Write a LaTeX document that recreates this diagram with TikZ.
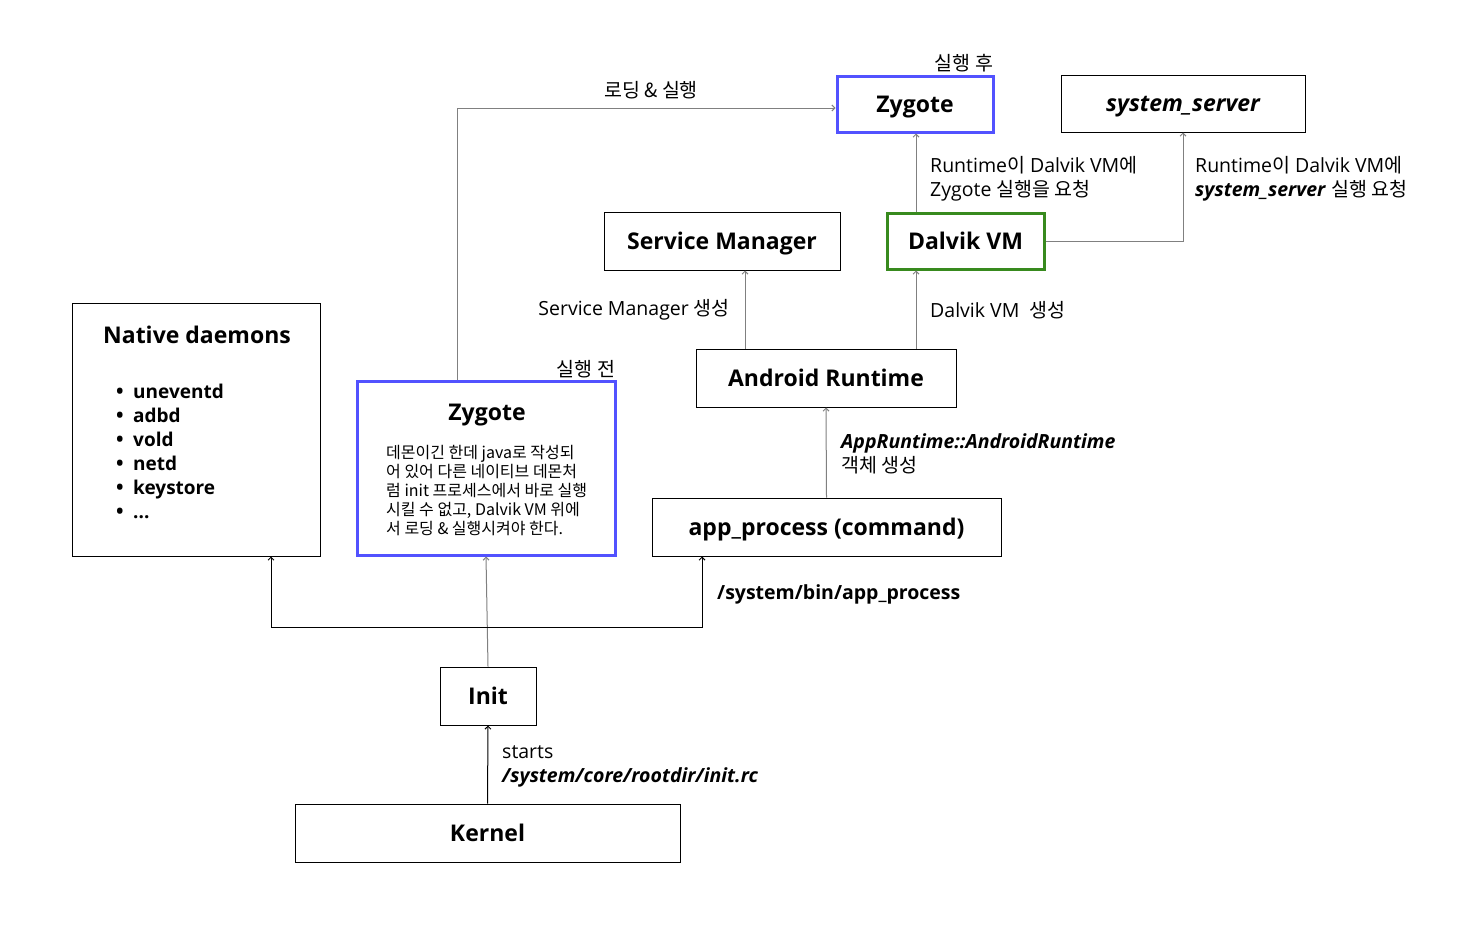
\documentclass[tikz,border=0pt]{standalone}
\usepackage{fontspec}
\setmainfont{Open Sans}
\newfontfamily\kofont{Noto Sans CJK KR}
\newcommand\ko[1]{{\kofont #1}}
\usetikzlibrary{arrows.meta}
\definecolor{zblue}{RGB}{82,82,255}
\definecolor{vgreen}{RGB}{56,138,30}
\definecolor{lgray}{RGB}{128,128,128}
\newcommand\bl{\makebox[17pt][l]{\fontsize{20}{24}\selectfont •}}
\begin{document}
\begin{tikzpicture}[x=1pt,y=-1pt,
  box/.style={draw, line width=1pt, inner sep=0pt, text height=16pt, text depth=0pt, font=\fontsize{23}{27}\selectfont\bfseries},
  bluebox/.style={box, draw=zblue, line width=3pt},
  greenbox/.style={box, draw=vgreen, line width=3pt},
  lbl/.style={inner sep=0pt, font=\fontsize{19.5}{24}\selectfont, align=left},
  conn/.style={line width=1pt, -{Straight Barb[length=3pt,width=6pt]}},
  gconn/.style={conn, draw=lgray}]
\useasboundingbox (0,0) rectangle (1479,937);
% boxes
\node[box, minimum width=385, minimum height=58] (kr) at (487.5,833) {Kernel};
\node[box, minimum width=96, minimum height=58] (in) at (488,696) {Init};
\node[box, minimum width=248, minimum height=253] (nd) at (196,429.5) {};
\node[inner sep=0pt, text height=16pt, text depth=0pt, font=\fontsize{23}{27}\selectfont\bfseries] (ndt) at (197,335) {Native daemons};
\node[inner sep=0pt, anchor=west, align=left, font=\fontsize{19}{24}\selectfont\bfseries] (ndl) at (116,451.5)
  {\bl uneventd\\ \bl adbd\\ \bl vold\\ \bl netd\\ \bl keystore\\ \bl ...};
\node[bluebox, minimum width=258, minimum height=174] (zb) at (486,468) {};
\node[inner sep=0pt, text height=16pt, text depth=0pt, font=\fontsize{23}{27}\selectfont\bfseries] (zbt) at (487,412) {Zygote};
\node[inner sep=0pt, anchor=west, align=left, font=\kofont\fontsize{16}{19}\selectfont] (zbx) at (386,491)
  {데몬이긴 한데 java로 작성되\\어 있어 다른 네이티브 데몬처\\럼 init 프로세스에서 바로 실행\\시킬 수 없고, Dalvik VM 위에\\서 로딩 \& 실행시켜야 한다.};
\node[box, minimum width=349, minimum height=58] (ap) at (826.5,527) {app\_process (command)};
\node[box, minimum width=260, minimum height=58] (ar) at (826,378) {Android Runtime};
\node[box, minimum width=236, minimum height=58] (sm) at (722,241) {Service Manager};
\node[greenbox, minimum width=157, minimum height=56] (dv) at (965.5,241) {Dalvik VM};
\node[bluebox, minimum width=156, minimum height=56] (za) at (915,104) {Zygote};
\node[box, minimum width=244, minimum height=57] (ss) at (1183,103.5) {\itshape system\_server};
% labels
\node[lbl] (l1) at (651,90) {\ko{로딩 \& 실행}};
\node[lbl] (l2) at (964,63) {\ko{실행 후}};
\node[lbl] (l3) at (586,369) {\ko{실행 전}};
\node[lbl, anchor=west] (l4) at (930,179) {Runtime\ko{이} Dalvik VM\ko{에}\\Zygote \ko{실행을 요청}};
\node[lbl, anchor=west] (l5) at (1195,179) {Runtime\ko{이} Dalvik VM\ko{에}\\\textbf{\itshape system\_server} \ko{실행 요청}};
\node[lbl, anchor=east] (l6) at (730,310) {Service Manager \ko{생성}};
\node[lbl, anchor=west] (l7) at (930,310) {Dalvik VM\ \ \ko{생성}};
\node[lbl, anchor=west] (l8) at (841,454) {\textbf{\itshape AppRuntime::AndroidRuntime}\\\ko{객체 생성}};
\node[lbl, anchor=west] (l9) at (717,594) {\textbf{/system/bin/app\_process}};
\node[lbl, anchor=west] (l10) at (502,766) {starts\\\textbf{\itshape /system/core/rootdir/init.rc}};
% coordinates
\coordinate (bl) at (271,627);
\coordinate (br) at (702,627);
\coordinate (zl) at (457,108);
\coordinate (smx) at (745,0);
\coordinate (dvx) at (916,0);
% connectors
\draw[conn] (kr.north) -- (in.south);
\draw[gconn] (in.north) -- (zb.south);
\draw[conn, {Straight Barb[length=3pt,width=6pt]}-{Straight Barb[length=3pt,width=6pt]}] (nd.south -| bl) -- (bl) -- (br) -- (ap.south -| br);
\draw[gconn] (zb.north -| zl) -- (zl) -- (za.west |- zl);
\draw[gconn] (ap.north) -- (ar.south);
\draw[gconn] (ar.north -| smx) -- (sm.south -| smx);
\draw[gconn] (ar.north -| dvx) -- (dv.south -| dvx);
\draw[gconn] (dv.north -| dvx) -- (za.south -| dvx);
\draw[gconn] (dv.east) -| (ss.south);
\end{tikzpicture}
\end{document}
